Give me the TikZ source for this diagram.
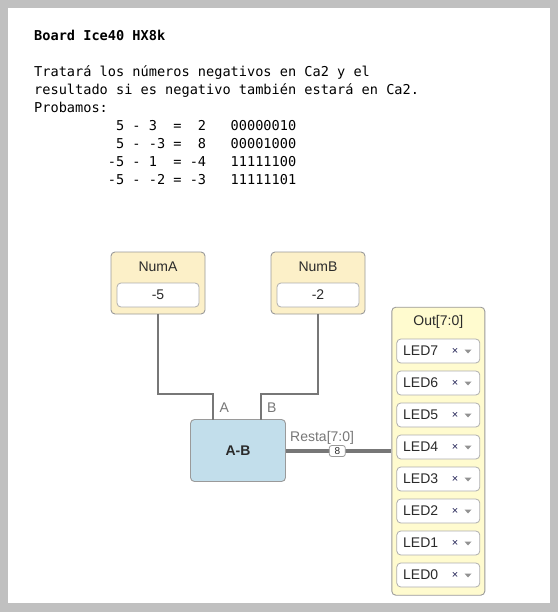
\documentclass[tikz,border=0pt]{standalone}
\usepackage{fontspec}
\setmainfont{Liberation Sans}
\newfontfamily\monof{DejaVu Sans Mono}
\usetikzlibrary{calc}
\definecolor{frameg}{HTML}{C0C0C0}
\definecolor{inyel}{HTML}{FCF0C8}
\definecolor{outyel}{HTML}{FFFBCF}
\definecolor{abblue}{HTML}{C2DEEB}
\definecolor{boxline}{HTML}{9A9A9A}
\definecolor{wireg}{HTML}{777777}
\definecolor{txt}{HTML}{2A2A2A}
\tikzset{
  codeline/.style={anchor=base west, inner sep=0pt, font=\monof\fontsize{13.6}{16}\selectfont},
  panel/.style={draw=boxline, line width=0.9pt, rounded corners=4pt, inner sep=0pt},
  field/.style={draw=boxline!80, line width=0.8pt, rounded corners=4pt, fill=white, inner sep=0pt},
  label/.style={inner sep=0pt, text=txt, font=\fontsize{14}{16}\selectfont},
  portlbl/.style={anchor=base west, inner sep=0pt, text=wireg, font=\fontsize{14}{16}\selectfont},
  wire/.style={draw=wireg, line width=1.5pt},
  bus/.style={draw=wireg, line width=4pt},
  badge/.style={draw=boxline, fill=white, rounded corners=2.5pt, line width=0.8pt, minimum width=16pt, minimum height=11pt, inner sep=0pt, font=\fontsize{10}{11}\selectfont, text=txt},
  xmark/.style={inner sep=0pt, text=txt!80!blue, font=\fontsize{11}{12}\selectfont},
}
\begin{document}
\begin{tikzpicture}[x=1pt,y=-1pt]
\fill[frameg] (0,0) rectangle (558,612);
\fill[white] (8,8) rectangle (550,603);
\useasboundingbox (0,0) rectangle (558,612);

% text block
\node[codeline, font=\monof\bfseries\fontsize{13.6}{16}\selectfont] (t0) at (34,41) {Board Ice40 HX8k};
\node[codeline] (t1) at (34,77) {Tratará los números negativos en Ca2 y el};
\node[codeline] (t2) at (34,95) {resultado si es negativo también estará en Ca2.};
\node[codeline] (t3) at (34,113) {Probamos:};
\node[codeline] (t4) at (34,131) {~~~~~~~~~~5~-~3~~=~~2~~~00000010};
\node[codeline] (t5) at (34,149) {~~~~~~~~~~5~-~-3~=~~8~~~00001000};
\node[codeline] (t6) at (34,167) {~~~~~~~~~-5~-~1~~=~-4~~~11111100};
\node[codeline] (t7) at (34,185) {~~~~~~~~~-5~-~-2~=~-3~~~11111101};

% inputs
\node[panel, fill=inyel, minimum width=94pt, minimum height=62pt] (numa) at (158,283) {};
\node[label] (numat) at (158,267) {NumA};
\node[field, minimum width=82pt, minimum height=24pt] (numav) at (158,295) {};
\node[label] (numavt) at (158,295) {-5};

\node[panel, fill=inyel, minimum width=94pt, minimum height=62pt] (numb) at (318,283) {};
\node[label] (numbt) at (318,267) {NumB};
\node[field, minimum width=82pt, minimum height=24pt] (numbv) at (318,295) {};
\node[label] (numbvt) at (318,295) {-2};

% subtractor
\node[panel, fill=abblue, minimum width=95pt, minimum height=62pt] (ab) at (238,450.5) {};
\node[label, font=\bfseries\fontsize{14}{16}\selectfont] (abt) at (238,450.5) {A-B};
\coordinate (pa) at (213,419.5);
\coordinate (pb) at (261,419.5);
\coordinate (ma) at (213,394);
\coordinate (mb) at (261,394);
\draw[wire] (numa.south) |- (ma) -- (pa);
\draw[wire] (numb.south) |- (mb) -- (pb);
\node[portlbl] (la) at (219.5,412.5) {A};
\node[portlbl] (lb) at (267,412.5) {B};

% output
\node[panel, fill=outyel, minimum width=93pt, minimum height=288pt] (out) at (438.3,451.2) {};
\node[label] (outt) at (438.3,322) {Out[7:0]};
\foreach \i/\y in {7/351,6/383,5/415,4/447,3/479,2/511,1/543,0/575}{
  \node[field, minimum width=83pt, minimum height=24pt] (led\i) at (438.3,\y) {};
  \node[label, anchor=west] (led\i t) at (403,\y) {LED\i};
  \node[xmark] (led\i x) at (455,\y) {×};
  \fill[wireg!80] (464.5,\y-1.5) -- (471.5,\y-1.5) -- (468,\y+2.5) -- cycle;
}

% bus
\draw[bus] (ab.east |- 0,451) -- (out.west |- 0,451);
\node[badge] (w8) at (337.3,451) {8};
\node[portlbl] (resta) at (290,441.5) {Resta[7:0]};
\end{tikzpicture}
\end{document}
